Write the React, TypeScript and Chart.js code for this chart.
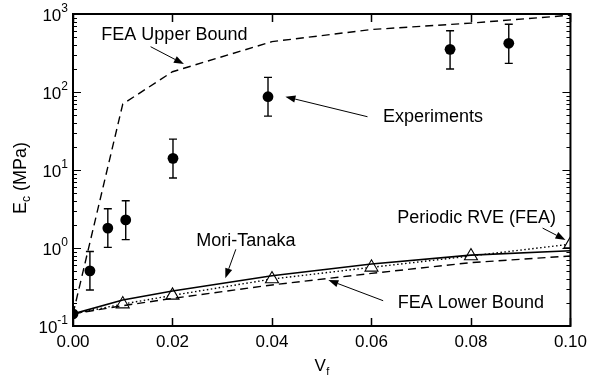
import { useEffect, useRef } from "react";
import { Chart, registerables } from "chart.js";

Chart.register(...registerables);

const FONT = '"Liberation Sans", Arial, Helvetica, sans-serif';

// Volume fractions at which the model curves were evaluated
const modelVf = [0, 0.01, 0.02, 0.04, 0.06, 0.08, 0.1];
const upperBoundEc = [0.143, 70, 182, 442, 632, 765, 965];
const moriTanakaEc = [0.143, 0.215, 0.281, 0.44, 0.624, 0.81, 0.92];
const lowerBoundEc = [0.143, 0.182, 0.226, 0.336, 0.473, 0.65, 0.79];
const periodicRveEc = [0.143, 0.191, 0.247, 0.4, 0.565, 0.79, 1.12];

// Measured moduli with min/max error bars
const experimentVf = [0, 0.0034, 0.007, 0.0106, 0.0201, 0.0392, 0.0758, 0.0876];
const experimentEc = [0.143, 0.51, 1.8, 2.29, 14.1, 87, 352, 421];
const experimentLow = [null, 0.29, 1.02, 1.28, 7.9, 49, 197, 233];
const experimentHigh = [null, 0.9, 3.19, 4.04, 24.9, 154, 611, 738];

// Axis ticks
const xTickStep = 0.02;
const yDecadeExponents = [-1, 0, 1, 2, 3];

// Callout labels: text position and arrow (tail -> head), in data units
const callouts = [
  { text: "FEA Upper Bound", x: 0.0057, y: 538, tail: [0.0156, 381], head: [0.0223, 228] },
  { text: "Experiments", x: 0.0623, y: 48.2, tail: [0.0592, 48.2], head: [0.0427, 87] },
  { text: "Periodic RVE (FEA)", x: 0.0652, y: 2.43, tail: [0.0944, 1.8], head: [0.099, 1.27] },
  { text: "Mori-Tanaka", x: 0.0248, y: 1.23, tail: [0.03273, 0.962], head: [0.03062, 0.409] },
  { text: "FEA Lower Bound", x: 0.0653, y: 0.195, tail: [0.06235, 0.211], head: [0.05133, 0.389] },
];

function drawArrow(ctx: CanvasRenderingContext2D, x1: number, y1: number, x2: number, y2: number) {
  const ang = Math.atan2(y2 - y1, x2 - x1);
  const len = 10;
  const half = 3.6;
  const bx = x2 - len * Math.cos(ang);
  const by = y2 - len * Math.sin(ang);
  ctx.beginPath();
  ctx.moveTo(x1, y1);
  ctx.lineTo(bx, by);
  ctx.lineWidth = 1;
  ctx.stroke();
  ctx.beginPath();
  ctx.moveTo(x2, y2);
  ctx.lineTo(bx + half * Math.sin(ang), by - half * Math.cos(ang));
  ctx.lineTo(bx - half * Math.sin(ang), by + half * Math.cos(ang));
  ctx.closePath();
  ctx.fill();
}

const errorBarPlugin = {
  id: "errorBars",
  afterDatasetsDraw(chart: any) {
    const { ctx, scales } = chart;
    const xs = scales.x;
    const ys = scales.y;
    ctx.save();
    ctx.strokeStyle = "#000";
    ctx.lineWidth = 1.4;
    experimentVf.forEach((vf, i) => {
      const lo = experimentLow[i];
      const hi = experimentHigh[i];
      if (lo == null || hi == null) return;
      const px = xs.getPixelForValue(vf);
      const pLo = ys.getPixelForValue(lo);
      const pHi = ys.getPixelForValue(hi);
      ctx.beginPath();
      ctx.moveTo(px, pLo);
      ctx.lineTo(px, pHi);
      ctx.moveTo(px - 4, pLo);
      ctx.lineTo(px + 4, pLo);
      ctx.moveTo(px - 4, pHi);
      ctx.lineTo(px + 4, pHi);
      ctx.stroke();
    });
    ctx.restore();
  },
};

const framePlugin = {
  id: "frameAndLabels",
  afterDraw(chart: any) {
    const { ctx, chartArea, scales } = chart;
    const { left, right, top, bottom } = chartArea;
    const xs = scales.x;
    const ys = scales.y;
    ctx.save();
    ctx.strokeStyle = "#000";
    ctx.fillStyle = "#000";

    // inward ticks, x axis (bottom and top)
    ctx.lineWidth = 1.5;
    ctx.beginPath();
    for (let v = 0; v <= 0.1 + 1e-9; v += xTickStep) {
      const px = Math.round(xs.getPixelForValue(v)) + 0.5;
      ctx.moveTo(px, bottom);
      ctx.lineTo(px, bottom - 8);
      ctx.moveTo(px, top);
      ctx.lineTo(px, top + 8);
    }
    ctx.stroke();

    // inward ticks, log y axis (left and right)
    ctx.beginPath();
    yDecadeExponents.forEach((e) => {
      const base = Math.pow(10, e);
      const py = Math.round(ys.getPixelForValue(base)) + 0.5;
      ctx.moveTo(left, py);
      ctx.lineTo(left + 8, py);
      ctx.moveTo(right, py);
      ctx.lineTo(right - 8, py);
      if (e < 3) {
        for (let m = 2; m <= 9; m++) {
          const pm = Math.round(ys.getPixelForValue(base * m)) + 0.5;
          ctx.moveTo(left, pm);
          ctx.lineTo(left + 4, pm);
          ctx.moveTo(right, pm);
          ctx.lineTo(right - 4, pm);
        }
      }
    });
    ctx.lineWidth = 1.2;
    ctx.stroke();

    // frame
    ctx.lineWidth = 2;
    ctx.strokeRect(left, top, right - left, bottom - top);

    // y tick labels: 10 with superscript exponent
    yDecadeExponents.forEach((e) => {
      const py = ys.getPixelForValue(Math.pow(10, e));
      const exp = e < 0 ? "-" + Math.abs(e) : String(e);
      ctx.font = `12px ${FONT}`;
      const ew = ctx.measureText(exp).width;
      ctx.font = `17px ${FONT}`;
      const bw = ctx.measureText("10").width;
      const xr = left - 5;
      ctx.textBaseline = "alphabetic";
      ctx.textAlign = "left";
      ctx.fillText("10", xr - ew - bw, py + 7);
      ctx.font = `12px ${FONT}`;
      ctx.fillText(exp, xr - ew, py - 2);
    });

    // x axis title V_f
    ctx.textAlign = "left";
    ctx.textBaseline = "alphabetic";
    const cx = (left + right) / 2;
    ctx.font = `17px ${FONT}`;
    const vw = ctx.measureText("V").width;
    ctx.font = `11px ${FONT}`;
    const fw = ctx.measureText("f").width;
    const sx = cx - (vw + fw) / 2;
    ctx.font = `17px ${FONT}`;
    ctx.fillText("V", sx, 371);
    ctx.font = `11px ${FONT}`;
    ctx.fillText("f", sx + vw + 0.5, 375);

    // y axis title E_c (MPa)
    ctx.save();
    ctx.translate(26, (top + bottom) / 2 + 8);
    ctx.rotate(-Math.PI / 2);
    ctx.font = `18px ${FONT}`;
    const ewid = ctx.measureText("E").width;
    const rest = " (MPa)";
    const rw = ctx.measureText(rest).width;
    ctx.font = `12px ${FONT}`;
    const cw = ctx.measureText("c").width;
    const total = ewid + cw + rw;
    let tx = -total / 2;
    ctx.font = `18px ${FONT}`;
    ctx.fillText("E", tx, 0);
    tx += ewid;
    ctx.font = `12px ${FONT}`;
    ctx.fillText("c", tx, 4);
    tx += cw;
    ctx.font = `18px ${FONT}`;
    ctx.fillText(rest, tx, 0);
    ctx.restore();

    // callouts
    ctx.font = `18px ${FONT}`;
    ctx.textBaseline = "middle";
    ctx.textAlign = "left";
    callouts.forEach((c) => {
      ctx.fillText(c.text, xs.getPixelForValue(c.x), ys.getPixelForValue(c.y));
      drawArrow(
        ctx,
        xs.getPixelForValue(c.tail[0]),
        ys.getPixelForValue(c.tail[1]),
        xs.getPixelForValue(c.head[0]),
        ys.getPixelForValue(c.head[1])
      );
    });
    ctx.restore();
  },
};

export default function App() {
  const canvasRef = useRef<HTMLCanvasElement | null>(null);

  useEffect(() => {
    document.body.style.margin = "0";
    const canvas = canvasRef.current;
    if (!canvas) return;
    const toXY = (xs: number[], ys: (number | null)[]) =>
      xs.map((x, i) => ({ x, y: ys[i] as number }));

    const chart = new Chart(canvas, {
      type: "line",
      data: {
        datasets: [
          {
            label: "FEA Upper Bound",
            data: toXY(modelVf, upperBoundEc),
            borderColor: "#000",
            borderWidth: 1.4,
            borderDash: [8, 5],
            pointRadius: 0,
            fill: false,
          },
          {
            label: "Mori-Tanaka",
            data: toXY(modelVf, moriTanakaEc),
            borderColor: "#000",
            borderWidth: 1.6,
            pointRadius: 0,
            fill: false,
          },
          {
            label: "FEA Lower Bound",
            data: toXY(modelVf, lowerBoundEc),
            borderColor: "#000",
            borderWidth: 1.4,
            borderDash: [8, 5],
            pointRadius: 0,
            fill: false,
          },
          {
            label: "Periodic RVE (FEA)",
            data: toXY(modelVf, periodicRveEc),
            borderColor: "#000",
            borderWidth: 1.4,
            borderDash: [1.5, 2.5],
            pointStyle: "triangle",
            pointRadius: modelVf.map((v) => (v === 0 ? 0 : 7.5)),
            pointBackgroundColor: "#fff",
            pointBorderColor: "#000",
            pointBorderWidth: 1.1,
            fill: false,
          },
          {
            label: "Experiments",
            data: toXY(experimentVf, experimentEc),
            showLine: false,
            pointStyle: "circle",
            pointRadius: 5.4,
            pointBackgroundColor: "#000",
            pointBorderColor: "#000",
            pointBorderWidth: 0,
          },
        ],
      },
      options: {
        animation: false,
        responsive: true,
        maintainAspectRatio: false,
        layout: { padding: { top: 14, right: 18, left: 0, bottom: 0 } },
        plugins: {
          legend: { display: false },
          tooltip: { enabled: false },
        },
        scales: {
          x: {
            type: "linear",
            min: 0,
            max: 0.1,
            grid: { display: false, drawTicks: false },
            border: { display: false },
            ticks: {
              stepSize: xTickStep,
              padding: 6,
              color: "#000",
              font: { family: FONT, size: 17 },
              callback: (v: any) => Number(v).toFixed(2),
            },
            afterFit: (s: any) => {
              s.height = 55;
            },
          },
          y: {
            type: "logarithmic",
            min: 0.1,
            max: 1000,
            grid: { display: false, drawTicks: false },
            border: { display: false },
            ticks: { display: false },
            afterFit: (s: any) => {
              s.width = 73;
            },
          },
        },
      },
      plugins: [errorBarPlugin, framePlugin],
    });
    return () => chart.destroy();
  }, []);

  return (
    <div style={{ position: "absolute", left: 0, top: 0, width: 593, height: 381 }}>
      <canvas ref={canvasRef} />
    </div>
  );
}
